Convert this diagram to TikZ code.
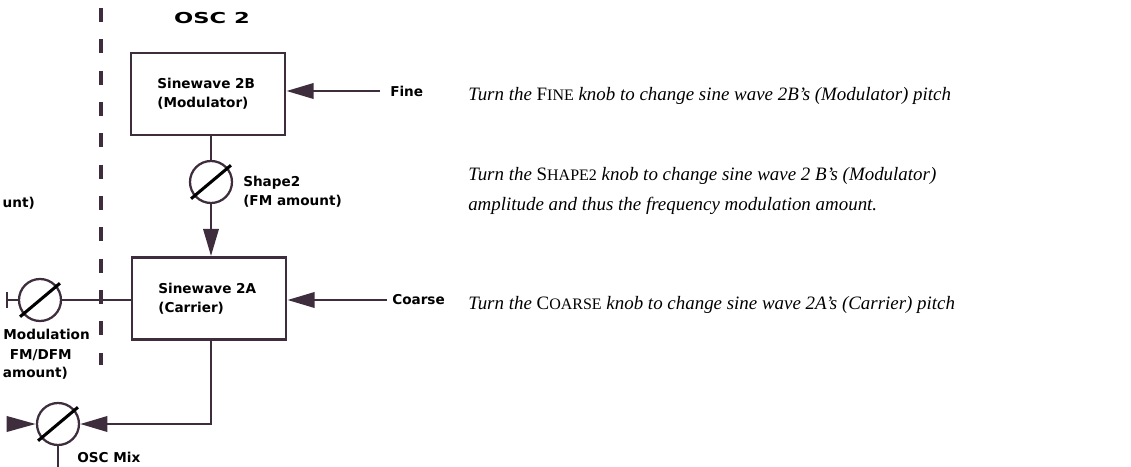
\documentclass[tikz,border=0pt]{standalone}
\usepackage{fontspec}
\setmainfont{Liberation Serif}
\newfontfamily\labelfont{DejaVu Sans}
\usepackage{xcolor}
\usepackage{tikz}
\usetikzlibrary{positioning, arrows.meta, calc}

\definecolor{plum}{RGB}{61,45,61}
\newcommand{\knobname}[2]{{\upshape #1{\fontsize{12}{12}\selectfont #2}}}

\begin{document}
\begin{tikzpicture}[x=0.75pt, y=-0.75pt,
    wire/.style={draw=plum, line width=2.1pt},
    arrowin/.style={-{Triangle[length=20.5pt, width=11.5pt]}},
    block/.style={draw=plum, line width=2.1pt, minimum width=115.5pt, minimum height=61.5pt,
        text width=76pt, inner xsep=19.75pt, align=left,
        font=\labelfont\bfseries\fontsize{10.2}{14.25}\selectfont},
    knob/.style={circle, draw=plum, line width=1.7pt, minimum size=31.5pt, inner sep=0pt},
    slash/.style={draw=black, line width=2.3pt},
    lbl/.style={inner sep=0pt, font=\labelfont\bfseries\fontsize{10.2}{14.25}\selectfont},
    note/.style={inner sep=0pt, anchor=base west, font=\itshape\fontsize{14.2}{22.5}\selectfont}]
    \useasboundingbox (0, 0) rectangle (1131, 467);

    \draw[plum, line width=2.3pt, dash pattern=on 10.5pt off 13pt] (101, 8) -- (101, 365);

    \node[lbl] (title) at (212, 18) {\scalebox{1.5}[1]{\fontsize{11.3}{12}\selectfont OSC 2}};

    \node[block] (sineB) at (208, 94) {Sinewave 2B\\(Modulator)};
    \node[block] (sineA) at (209, 298.5) {Sinewave 2A\\(Carrier)};

    \node[knob] (shapeknob) at (211, 182) {};
    \node[knob] (fmknob) at (40, 300) {};
    \node[knob] (mixknob) at (58, 424) {};

    \node[lbl, anchor=west, inner xsep=7.5pt] (fine) at (380, 91) {Fine};
    \node[lbl, anchor=west, inner xsep=3.75pt] (coarse) at (387, 300) {Coarse};
    \node[lbl, anchor=west, align=left] (shapelbl) at (243, 191.5) {Shape2\\(FM amount)};
    \node[lbl, anchor=east] (prevlbl) at (35, 203) {unt)};
    \node[lbl, anchor=base east] (modlblA) at (90, 339) {Modulation};
    \node[lbl, anchor=base east] (modlblB) at (72, 359) {FM/DFM};
    \node[lbl, anchor=base east] (modlblC) at (68, 377) {amount)};
    \node[lbl, anchor=west] (mixlbl) at (77, 457) {OSC Mix};

    \node[note] (fineNote) at (468, 100) {Turn the \knobname{F}{INE} knob to change sine wave 2B’s (Modulator) pitch};
    \node[note] (shapeNoteA) at (468, 180) {Turn the \knobname{S}{HAPE2} knob to change sine wave 2 B’s (Modulator)};
    \node[note] (shapeNoteB) at (468, 210) {amplitude and thus the frequency modulation amount.};
    \node[note] (coarseNote) at (468, 309) {Turn the \knobname{C}{OARSE} knob to change sine wave 2A’s (Carrier) pitch};

    \draw[wire, arrowin] (fine.west) -- (sineB.east |- fine.west);
    \draw[wire, arrowin] (coarse.west) -- (sineA.east |- coarse.west);
    \draw[wire] (sineB.south -| shapeknob) -- (shapeknob.north);
    \draw[wire, arrowin] (shapeknob.south) -- (sineA.north -| shapeknob);
    \draw[wire] (fmknob.east) -- (sineA.west |- fmknob.east);
    \coordinate (fmstub) at (7, 300);
    \draw[wire] (fmstub) -- (fmknob.west);
    \draw[wire] ([yshift=-6pt]fmstub) -- ([yshift=6pt]fmstub);
    \draw[wire, arrowin] (sineA.south -| shapeknob) |- (mixknob.east);
    \coordinate (mixin) at (7, 424);
    \draw[wire, -{Triangle[length=22pt, width=11.5pt]}] (mixin) -- (mixknob.west);
    \coordinate (mixout) at (58, 467);
    \draw[wire] (mixknob.south) -- (mixout);

    \foreach \k in {shapeknob, fmknob, mixknob} {
        \draw[slash] ([shift={(140:26)}]\k.center) -- ([shift={(-40:26)}]\k.center);
    }
\end{tikzpicture}
\end{document}
